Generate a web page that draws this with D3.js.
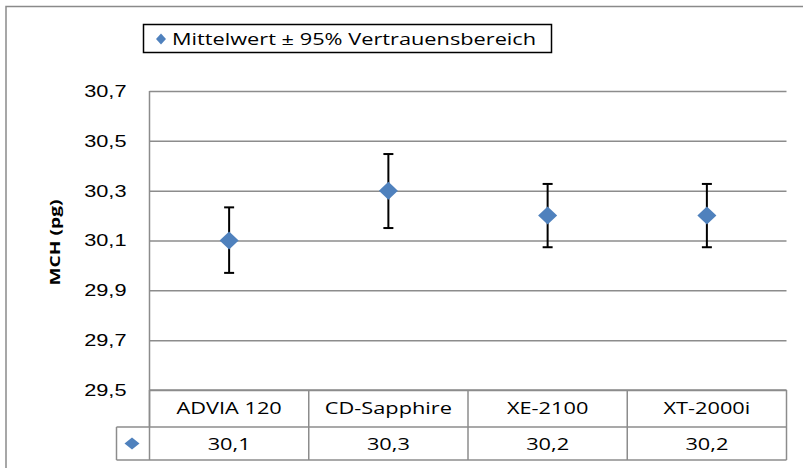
<!DOCTYPE html>
<html>
<head>
<meta charset="utf-8">
<script src="https://cdn.jsdelivr.net/npm/d3@7"></script>
<style>
  body { margin: 0; background: #fff; }
  svg { display: block; font-family: "Open Sans", sans-serif; }
</style>
</head>
<body>
<div id="chart"></div>
<script>
// data
const categories = ['ADVIA 120', 'CD-Sapphire', 'XE-2100', 'XT-2000i'];
const means = [30.1, 30.3, 30.2, 30.2];
const ciLower = [29.97, 30.15, 30.073, 30.073];
const ciUpper = [30.233, 30.447, 30.327, 30.327];
const valueLabels = ['30,1', '30,3', '30,2', '30,2'];
const yTicks = [29.5, 29.7, 29.9, 30.1, 30.3, 30.5, 30.7];
const legendLabel = 'Mittelwert \u00b1 95% Vertrauensbereich';
const yTitle = 'MCH (pg)';

const W = 803, H = 468;
const plot = {left: 149.5, right: 786.5, top: 91, bottom: 390};
const rowH = [37, 33];
const keyLeft = 116.5;
const blue = '#4F81BD';
const grid = '#8c8c8c';
const stretch = 1.28;  // the source text is drawn wide
const fontSize = '17px';

const svg = d3.select('#chart').append('svg')
    .attr('width', W).attr('height', H);

// outer chart frame (runs past the right/bottom edge)
svg.append('rect')
    .attr('x', 6).attr('y', 6.5)
    .attr('width', W + 10).attr('height', H + 10)
    .attr('fill', 'none').attr('stroke', '#8a8a8a').attr('stroke-width', 1.5);

const x = d3.scaleBand().domain(categories).range([plot.left, plot.right]);
const y = d3.scaleLinear().domain([29.5, 30.7]).range([plot.bottom, plot.top]);
const cx = d => x(d) + x.bandwidth() / 2;

// gridlines + tick labels
const yAxis = svg.append('g')
    .attr('transform', 'translate(' + plot.left + ',0)')
    .call(d3.axisLeft(y).tickValues(yTicks)
        .tickSize(-(plot.right - plot.left))
        .tickFormat(d => d3.format('.1f')(d).replace('.', ',')));
yAxis.select('.domain').remove();
yAxis.selectAll('.tick line').attr('stroke', grid).attr('stroke-width', 1.5);
yAxis.selectAll('.tick text')
    .attr('x', 0)
    .attr('transform', 'translate(-23,0) scale(' + stretch + ',1)')
    .attr('fill', '#000').style('font-size', fontSize);

// left axis line, extends down through the category row
svg.append('line')
    .attr('x1', plot.left).attr('x2', plot.left)
    .attr('y1', plot.top).attr('y2', plot.bottom + rowH[0])
    .attr('stroke', grid).attr('stroke-width', 1.5);

// y title
svg.append('text')
    .attr('transform', 'translate(60,' + ((plot.top + plot.bottom) / 2 + 2) + ') rotate(-90) scale(' + stretch + ',1)')
    .attr('text-anchor', 'middle')
    .style('font-size', '15px').style('font-weight', 'bold')
    .text(yTitle);

// error bars
const capW = 10;
const bars = svg.append('g').selectAll('g')
    .data(categories)
    .enter()
    .append('g')
    .attr('stroke', '#000').attr('stroke-width', 2);
bars.append('line')
    .attr('x1', cx).attr('x2', cx)
    .attr('y1', (d, i) => y(ciLower[i]))
    .attr('y2', (d, i) => y(ciUpper[i]));
bars.append('line')
    .attr('x1', d => cx(d) - capW / 2)
    .attr('x2', d => cx(d) + capW / 2)
    .attr('y1', (d, i) => y(ciUpper[i]))
    .attr('y2', (d, i) => y(ciUpper[i]));
bars.append('line')
    .attr('x1', d => cx(d) - capW / 2)
    .attr('x2', d => cx(d) + capW / 2)
    .attr('y1', (d, i) => y(ciLower[i]))
    .attr('y2', (d, i) => y(ciLower[i]));

// diamond markers
const diamond = (w, h) => 'M0,' + (-h / 2) + 'L' + (w / 2) + ',0L0,' + (h / 2) + 'L' + (-w / 2) + ',0Z';
svg.append('g').selectAll('path')
    .data(categories)
    .enter()
    .append('path')
    .attr('d', diamond(19, 18))
    .attr('transform', (d, i) => 'translate(' + cx(d) + ',' + y(means[i]) + ')')
    .attr('fill', blue);

// data table
const table = svg.append('g')
    .attr('fill', 'none').attr('stroke', grid).attr('stroke-width', 1.5);
const tY0 = plot.bottom, tY1 = plot.bottom + rowH[0], tY2 = tY1 + rowH[1];
table.append('line').attr('x1', plot.left).attr('x2', plot.right).attr('y1', tY0).attr('y2', tY0);
table.append('line').attr('x1', keyLeft).attr('x2', plot.right).attr('y1', tY1).attr('y2', tY1);
table.append('line').attr('x1', keyLeft).attr('x2', plot.right).attr('y1', tY2).attr('y2', tY2);
table.append('line').attr('x1', keyLeft).attr('x2', keyLeft).attr('y1', tY1).attr('y2', tY2);
table.selectAll('.col')
    .data(categories.map(c => x(c)).concat([plot.right]))
    .enter()
    .append('line')
    .attr('x1', d => d).attr('x2', d => d)
    .attr('y1', tY0).attr('y2', tY2);

function cellText(g, rowMid, label) {
  g.selectAll('text')
      .data(categories)
      .enter()
      .append('text')
      .attr('transform', d => 'translate(' + cx(d) + ',' + rowMid + ') scale(' + stretch + ',1)')
      .attr('dy', '0.35em')
      .attr('text-anchor', 'middle')
      .style('font-size', fontSize)
      .text(label);
}
cellText(svg.append('g'), (tY0 + tY1) / 2, d => d);
cellText(svg.append('g'), (tY1 + tY2) / 2 + 1, (d, i) => valueLabels[i]);
svg.append('path')
    .attr('d', diamond(15, 12))
    .attr('transform', 'translate(' + ((keyLeft + plot.left) / 2 - 1) + ',' + ((tY1 + tY2) / 2) + ')')
    .attr('fill', blue);

// legend
const legend = svg.append('g');
legend.append('rect')
    .attr('x', 143.5).attr('y', 24.5).attr('width', 408).attr('height', 28)
    .attr('fill', '#fff').attr('stroke', '#000').attr('stroke-width', 1.5);
legend.append('path')
    .attr('d', diamond(10, 11))
    .attr('transform', 'translate(161,39)')
    .attr('fill', blue);
legend.append('text')
    .attr('transform', 'translate(172,39) scale(' + stretch + ',1)')
    .attr('dy', '0.35em')
    .style('font-size', fontSize)
    .text(legendLabel);
</script>
</body>
</html>
